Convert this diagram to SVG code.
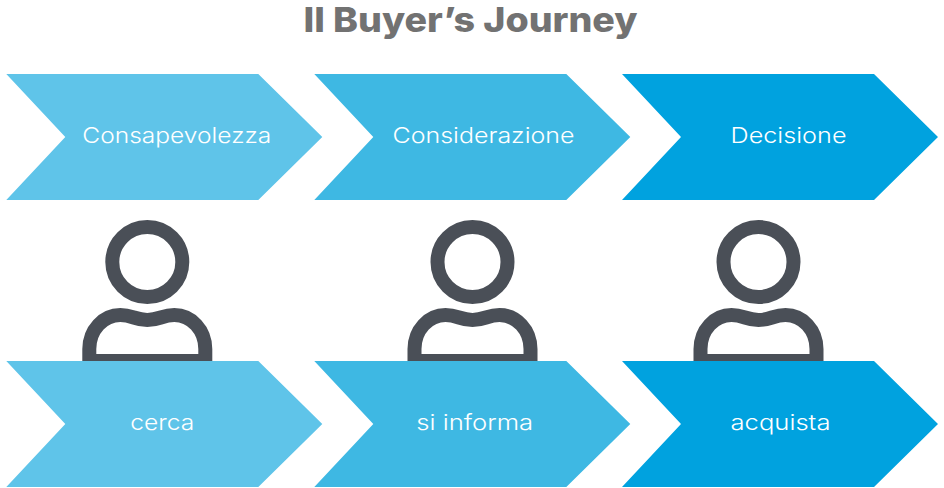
<svg xmlns="http://www.w3.org/2000/svg" width="944" height="488" viewBox="0 0 944 488">
<style>
.t{font-family:"Inter","Noto Sans","Liberation Sans",sans-serif;font-size:22px;font-weight:300;fill:#fff;text-anchor:middle}
.h{fill:none;stroke:#4a4f57;stroke-width:14}
.a{fill:#5fc4e9}.b{fill:#3eb8e3}.c{fill:#00a2df}
</style>
<defs>
<path id="chev" d="M0 0H252L316 63L252 126H0L59 63Z"/>
<g id="person"><circle class="h" cx="0" cy="262" r="35"/><path class="h" d="M-58 361V349C-58 330 -44 315 -27 315C-15 315 -12 320 0 320C12 320 15 315 27 315C44 315 58 330 58 349V361Z"/></g>
</defs>
<rect width="944" height="488" fill="#fff"/>
<text id="title" x="470.500" y="32" font-family="Inter,'Noto Sans','Liberation Sans',sans-serif" font-size="34" font-weight="800" fill="#727272" text-anchor="middle" textLength="334" lengthAdjust="spacingAndGlyphs">Il Buyer’s Journey</text>
<g id="person1"><use href="#person" x="147.300"/></g>
<g id="person2"><use href="#person" x="472.500"/></g>
<g id="person3"><use href="#person" x="758.500"/></g>
<g id="n1"><use href="#chev" class="a" x="6.300" y="74"/><text class="t" x="176.800" y="142.500" textLength="189" lengthAdjust="spacingAndGlyphs">Consapevolezza</text></g>
<g id="n2"><use href="#chev" class="b" x="314.300" y="74"/><text class="t" x="483.500" y="142.500" textLength="182" lengthAdjust="spacingAndGlyphs">Considerazione</text></g>
<g id="n3"><use href="#chev" class="c" x="622" y="74"/><text class="t" x="788.500" y="142.500" textLength="116" lengthAdjust="spacingAndGlyphs">Decisione</text></g>
<g id="n4"><use href="#chev" class="a" x="6.300" y="361"/><text class="t" x="162.300" y="429.500" textLength="64" lengthAdjust="spacingAndGlyphs">cerca</text></g>
<g id="n5"><use href="#chev" class="b" x="314.300" y="361"/><text class="t" x="474.700" y="429.500" textLength="117" lengthAdjust="spacingAndGlyphs">si informa</text></g>
<g id="n6"><use href="#chev" class="c" x="622" y="361"/><text class="t" x="780.500" y="429.500" textLength="100" lengthAdjust="spacingAndGlyphs">acquista</text></g>
<g id="connectors"/>
</svg>
